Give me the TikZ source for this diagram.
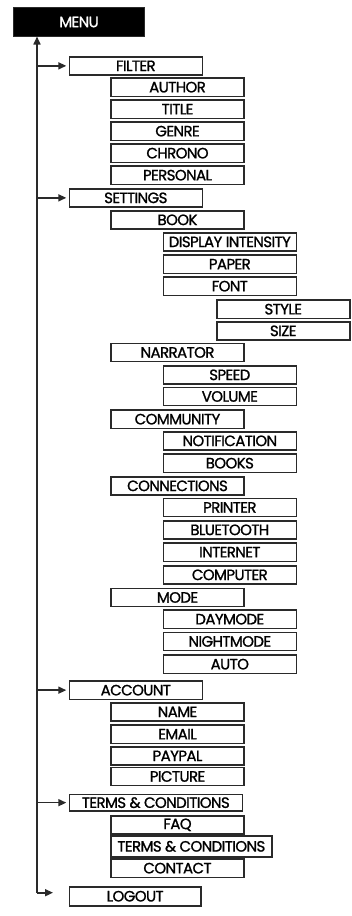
\documentclass[tikz,border=0pt]{standalone}
\usepackage{fontspec}
\setmainfont{Poppins}[LetterSpace=-4, FakeBold=1.2]
\usetikzlibrary{arrows.meta}
\definecolor{edge}{HTML}{2A2A2A}
\tikzset{
  bx/.style={draw=edge, line width=1.6pt, anchor=north west, inner sep=0pt, outer sep=0pt,
     minimum width=133pt, minimum height=18.3pt, font=\fontsize{15}{15}\selectfont, text=black},
  menubox/.style={fill=black, draw=edge, line width=1pt, anchor=north west, inner sep=0pt,
     minimum width=131pt, minimum height=29pt, font=\fontsize{15}{15}\selectfont, text=white},
  arr/.style={line width=1.6pt, draw=edge, -{Triangle[length=8pt,width=7pt]}},
  trunk/.style={line width=1.6pt, draw=edge}
}
\begin{document}
\begin{tikzpicture}[x=1pt,y=-1pt]
\useasboundingbox (0,0) rectangle (352,916);
\node[menubox] (menu) at (13,7) {MENU};
% level 1
\node[bx] (filter) at (69.3,56.7) {FILTER};
\node[bx] (author) at (111,78) {AUTHOR};
\node[bx] (title) at (111,100) {TITLE};
\node[bx] (genre) at (111,122) {GENRE};
\node[bx] (chrono) at (111,144) {CHRONO};
\node[bx] (personal) at (111,166) {PERSONAL};
\node[bx] (settings) at (69.3,188.7) {SETTINGS};
\node[bx] (book) at (111,210.7) {BOOK};
\node[bx] (display) at (163.3,232.7) {DISPLAY INTENSITY};
\node[bx] (paper) at (163.3,255) {PAPER};
\node[bx] (font) at (163.3,277) {FONT};
\node[bx] (style) at (216.7,300) {STYLE};
\node[bx] (size) at (216.7,321.7) {SIZE};
\node[bx] (narrator) at (111,343.3) {NARRATOR};
\node[bx] (speed) at (163.3,365.7) {SPEED};
\node[bx] (volume) at (163.3,387.3) {VOLUME};
\node[bx] (community) at (111,410) {COMMUNITY};
\node[bx] (notification) at (163.3,431.7) {NOTIFICATION};
\node[bx] (books) at (163.3,454) {BOOKS};
\node[bx] (connections) at (111,476.7) {CONNECTIONS};
\node[bx] (printer) at (163.3,498.3) {PRINTER};
\node[bx] (bluetooth) at (163.3,520.7) {BLUETOOTH};
\node[bx] (internet) at (163.3,543) {INTERNET};
\node[bx] (computer) at (163.3,565.7) {COMPUTER};
\node[bx] (mode) at (111,588.3) {MODE};
\node[bx] (daymode) at (163.3,610) {DAYMODE};
\node[bx] (nightmode) at (163.3,632.3) {NIGHTMODE};
\node[bx] (auto) at (163.3,655) {AUTO};
\node[bx] (account) at (69.3,681) {ACCOUNT};
\node[bx] (name) at (111,702.7) {NAME};
\node[bx] (email) at (111,725) {EMAIL};
\node[bx] (paypal) at (111,746.7) {PAYPAL};
\node[bx] (picture) at (111,767.3) {PICTURE};
\node[bx, minimum width=173pt, minimum height=16.7pt] (terms) at (69.3,794.3) {TERMS \& CONDITIONS};
\node[bx] (faq) at (111,815.7) {FAQ};
\node[bx, minimum width=160.7pt, minimum height=20.7pt] (terms2) at (111,836) {TERMS \& CONDITIONS};
\node[bx] (contact) at (111,859) {CONTACT};
\node[bx, minimum width=131.7pt, minimum height=19pt] (logout) at (69.3,886.7) {LOGOUT};
% trunk
\coordinate (top) at (37,36.5);
\coordinate (bottom) at (37,892.7);
\coordinate (logoutend) at (53,892.7);
\draw[arr] (bottom) -- (top);
\draw[arr] (bottom) -- (logoutend);
\draw[arr] (top |- filter.west) -- ([xshift=-3pt]filter.west);
\draw[arr] (top |- settings.west) -- ([xshift=-3pt]settings.west);
\draw[arr] (top |- account.west) -- ([xshift=-3pt]account.west);
\draw[arr] (top |- terms.west) -- ([xshift=-3pt]terms.west);
\end{tikzpicture}
\end{document}
